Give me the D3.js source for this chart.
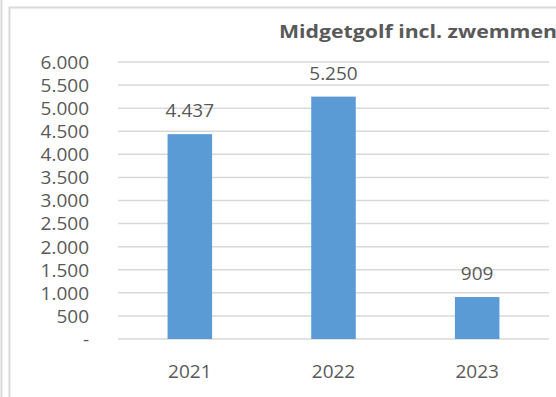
<!DOCTYPE html>
<html>
<head>
<meta charset="utf-8">
<script src="https://cdn.jsdelivr.net/npm/d3@7"></script>
<style>
  body { margin: 0; background: #fff; }
  svg text { font-family: "Open Sans", "Noto Sans", sans-serif; fill: #595959; }
  .grid line { stroke: #d9d9d9; stroke-width: 1.5; }
</style>
</head>
<body>
<div id="chart"></div>
<script>
  // data
  let years = ["2021", "2022", "2023"];
  let visitors = [4437, 5250, 909];
  let yTicks = [0, 500, 1000, 1500, 2000, 2500, 3000, 3500, 4000, 4500, 5000, 5500, 6000];
  let title = "Midgetgolf incl. zwemmen";

  let width = 556, height = 397;
  let fontSize = "19px";
  let fmt = d => d === 0 ? "-" : d3.format(",")(d).replace(/,/g, ".");

  let svg = d3.select("#chart").append("svg")
    .attr("width", width)
    .attr("height", height);

  // outer frame lines
  svg.append("line").attr("x1", 1.5).attr("x2", 1.5).attr("y1", 0).attr("y2", height)
    .attr("stroke", "#d9d9d9").attr("stroke-width", 2);
  svg.append("path")
    .attr("d", `M9.5,${height}V7.5H${width}`)
    .attr("fill", "none").attr("stroke", "#d9d9d9").attr("stroke-width", 2);

  // scales
  let x = d3.scaleBand().domain(years).range([118, 549]).paddingInner(0.69).paddingOuter(0.345);
  let y = d3.scaleLinear().domain([0, 6000]).range([339, 62]);

  // gridlines
  svg.append("g").attr("class", "grid")
    .selectAll("line").data(yTicks).enter().append("line")
    .attr("x1", 118).attr("x2", 549)
    .attr("y1", d => y(d)).attr("y2", d => y(d));

  // y labels
  svg.append("g").selectAll("text").data(yTicks).enter().append("text")
    .attr("x", 89).attr("y", d => y(d))
    .attr("dy", "0.36em")
    .attr("text-anchor", "end")
    .style("font-size", fontSize)
    .text(fmt);

  // bars
  let data = years.map((yr, i) => ({year: yr, value: visitors[i]}));
  svg.append("g").selectAll("rect").data(data).enter().append("rect")
    .attr("x", d => x(d.year))
    .attr("width", x.bandwidth())
    .attr("y", d => y(d.value))
    .attr("height", d => y(0) - y(d.value))
    .attr("fill", "#5b9bd5");

  // value labels
  svg.append("g").selectAll("text").data(data).enter().append("text")
    .attr("x", d => x(d.year) + x.bandwidth() / 2)
    .attr("y", d => y(d.value) - 17)
    .attr("text-anchor", "middle")
    .style("font-size", fontSize)
    .text(d => fmt(d.value));

  // x labels
  svg.append("g").selectAll("text").data(years).enter().append("text")
    .attr("x", d => x(d) + x.bandwidth() / 2)
    .attr("y", 378)
    .attr("text-anchor", "middle")
    .style("font-size", fontSize)
    .text(d => d);

  // title (runs off the right edge like the original)
  svg.append("text")
    .attr("x", 279).attr("y", 38)
    .style("font-size", "18px")
    .style("font-weight", "bold")
    .attr("textLength", 278)
    .attr("lengthAdjust", "spacingAndGlyphs")
    .text(title);
</script>
</body>
</html>
